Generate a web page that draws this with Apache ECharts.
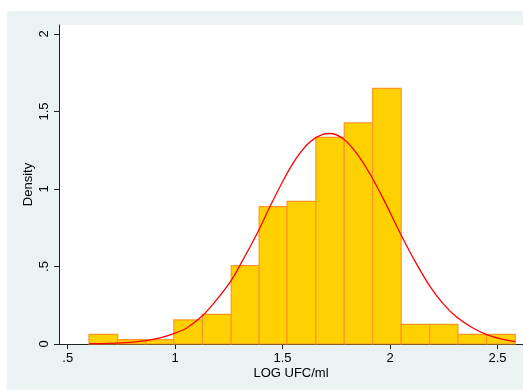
<!DOCTYPE html>
<html>
<head>
<meta charset="utf-8">
<script src="https://cdn.jsdelivr.net/npm/echarts@6/dist/echarts.min.js"></script>
<style>
html,body{margin:0;padding:0;background:#fff;}
#c{width:523px;height:390px;}
</style>
</head>
<body>
<div id="c"></div>
<script>
// Histogram bin edges (LOG UFC/ml) and densities
var binEdges = [0.599, 0.733, 0.863, 0.994, 1.127, 1.261, 1.391, 1.521, 1.655, 1.787, 1.919, 2.052, 2.185, 2.316, 2.450, 2.583];
var densities = [0.062, 0.028, 0.028, 0.155, 0.191, 0.505, 0.886, 0.920, 1.333, 1.426, 1.649, 0.127, 0.127, 0.062, 0.062];
// Normal density curve
var curveX = [0.60, 0.75, 0.866, 0.929, 0.994, 1.05, 1.127, 1.19, 1.259, 1.301, 1.379, 1.441, 1.503, 1.565, 1.627, 1.689, 1.72, 1.782, 1.845, 1.907, 1.969, 2.054, 2.12, 2.186, 2.25, 2.310, 2.38, 2.450, 2.52, 2.583];
var curveY = [0.002, 0.007, 0.022, 0.039, 0.067, 0.100, 0.182, 0.280, 0.406, 0.506, 0.706, 0.885, 1.055, 1.200, 1.303, 1.354, 1.358, 1.324, 1.230, 1.097, 0.936, 0.697, 0.525, 0.372, 0.256, 0.174, 0.108, 0.060, 0.031, 0.016];
// Tick labels
var xTicks = [0.5, 1, 1.5, 2, 2.5];
var xTickLabels = ['.5', '1', '1.5', '2', '2.5'];
var yTicks = [0, 0.5, 1, 1.5, 2];
var yTickLabels = ['0', '.5', '1', '1.5', '2'];
var gridValues = [0.5, 1, 1.5];

var barData = densities.map(function (d, i) { return [binEdges[i], binEdges[i + 1], d]; });
var curveData = curveX.map(function (x, i) { return [x, curveY[i]]; });

function fmt(list, labels) {
  return function (v) {
    for (var i = 0; i < list.length; i++) if (Math.abs(list[i] - v) < 1e-6) return labels[i];
    return '';
  };
}

var chart = echarts.init(document.getElementById('c'), null, {renderer: 'canvas'});
var font = 'Liberation Sans, Arial, sans-serif';
chart.setOption({
  animation: false,
  backgroundColor: '#ffffff',
  graphic: [{
    type: 'rect', left: 7, top: 11, z: -10,
    shape: {width: 516, height: 379},
    style: {fill: '#EAF2F3'}
  }],
  grid: {left: 59, top: 25, right: 0, bottom: 46, show: true, backgroundColor: '#ffffff', borderWidth: 0},
  xAxis: {
    type: 'value', min: 0.4595, max: 2.619,
    name: 'LOG UFC/ml', nameLocation: 'middle', nameGap: 23, nameMoveOverlap: false,
    nameTextStyle: {fontFamily: font, fontSize: 13, color: '#000'},
    axisLine: {show: true, onZero: false, lineStyle: {color: '#222', width: 1}},
    axisTick: {show: true, length: 5, customValues: xTicks, lineStyle: {color: '#222'}},
    axisLabel: {customValues: xTicks, formatter: fmt(xTicks, xTickLabels), fontFamily: font, fontSize: 13, color: '#000', margin: 8},
    splitLine: {show: false}
  },
  yAxis: {
    type: 'value', min: 0, max: 2.058,
    name: 'Density', nameLocation: 'middle', nameGap: 24, nameRotate: 90, nameMoveOverlap: false,
    nameTextStyle: {fontFamily: font, fontSize: 13, color: '#000'},
    axisLine: {show: true, onZero: false, lineStyle: {color: '#222', width: 1}},
    axisTick: {show: true, length: 5, customValues: yTicks, lineStyle: {color: '#222'}},
    axisLabel: {customValues: yTicks, formatter: fmt(yTicks, yTickLabels), rotate: 90, fontFamily: font, fontSize: 13, color: '#000', margin: 8},
    splitLine: {show: false}
  },
  series: [{
    type: 'custom',
    data: barData,
    encode: {x: [0, 1], y: 2},
    renderItem: function (params, api) {
      var p0 = api.coord([api.value(0), api.value(2)]);
      var p1 = api.coord([api.value(1), 0]);
      return {
        type: 'rect',
        shape: {x: p0[0], y: p0[1], width: p1[0] - p0[0], height: p1[1] - p0[1]},
        style: {fill: '#FFD100', stroke: '#FF9626', lineWidth: 1.2}
      };
    },
    markLine: {
      silent: true, symbol: 'none', label: {show: false},
      lineStyle: {color: '#E6EEF0', type: 'solid', width: 1},
      data: gridValues.map(function (v) { return {yAxis: v}; }),
      z: -1
    },
    z: 2
  }, {
    type: 'line',
    data: curveData,
    smooth: 0.3,
    symbol: 'none',
    lineStyle: {color: '#FF0000', width: 1.3},
    z: 3
  }]
});
</script>
</body>
</html>
